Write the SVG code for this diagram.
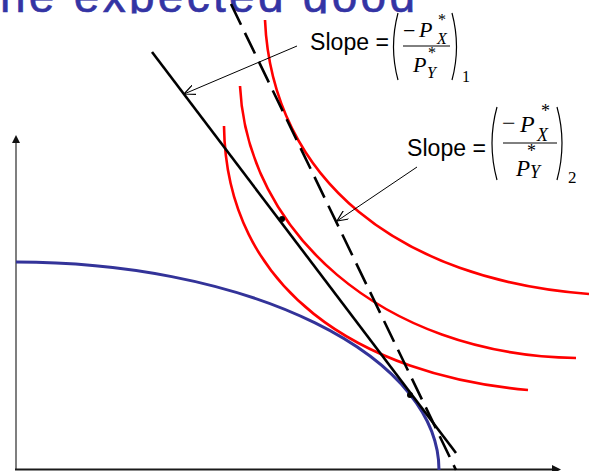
<svg xmlns="http://www.w3.org/2000/svg" width="589" height="471" viewBox="0 0 589 471">
<style>
.title{font-family:"Liberation Sans",Arial,sans-serif;font-size:46px;fill:#3434a4;stroke:#3434a4;stroke-width:0.6}
.lbl{font-family:"Liberation Sans",Arial,sans-serif;font-size:23px;fill:#000}
.m{font-family:"Liberation Serif","Times New Roman",serif;fill:#000}
.mi{font-family:"Liberation Serif","Times New Roman",serif;font-style:italic;fill:#000}
.paren{fill:none;stroke:#000;stroke-width:1.2}
.bar{stroke:#000;stroke-width:1}
.ic{fill:none;stroke:#ff0000;stroke-width:2.6}
.ppf{fill:none;stroke:#333399;stroke-width:3}
.bl{fill:none;stroke:#000;stroke-width:2.6}
.ptr{fill:none;stroke:#000;stroke-width:1;marker-end:url(#openArrow)}
</style>
<defs>
<clipPath id="titleClip"><rect x="0" y="0" width="589" height="13.5"/></clipPath>
<marker id="openArrow" viewBox="0 0 12 10" refX="11" refY="5" markerWidth="12" markerHeight="10" markerUnits="userSpaceOnUse" orient="auto">
<path d="M0,0 L11,5 L0,10" fill="none" stroke="#000" stroke-width="1.2"/>
</marker>
</defs>
<rect width="589" height="471" fill="#fff"/>
<g id="title" clip-path="url(#titleClip)">
<text class="title" x="0" y="12" textLength="415" lengthAdjust="spacing">he expected good</text>
</g>
<g id="axes">
<line x1="16" y1="470" x2="16" y2="142" stroke="#7f7f7f" stroke-width="2"/>
<polygon points="16,135 12,143 20,143" fill="#111"/>
<line x1="15" y1="469.5" x2="553" y2="469.5" stroke="#1a1a1a" stroke-width="2"/>
<polygon points="561,469.5 552,465 552,474" fill="#111"/>
</g>
<g id="ppf">
<path class="ppf" d="M16,262 A423,208 0 0 1 439,470"/>
</g>
<g id="indifference-curves">
<path id="ic1" class="ic" d="M224,126 C226,290 360,375 528,390"/>
<path id="ic2" class="ic" d="M240,86 C247,230 380,355 576,358"/>
<path id="ic3" class="ic" d="M265,20 C272,180 400,280 589,294"/>
</g>
<g id="price-lines">
<line id="price-line-1" class="bl" x1="152" y1="52" x2="456" y2="453"/>
<line id="price-line-2" class="bl" x1="231" y1="4" x2="456" y2="470" stroke-dasharray="23 9"/>
</g>
<g id="points">
<circle cx="282" cy="219" r="3" fill="#000"/>
<circle cx="410" cy="395" r="3" fill="#000"/>
</g>
<g id="slope-label-1">
<text class="lbl" x="310" y="50" textLength="79" lengthAdjust="spacingAndGlyphs">Slope =</text>
<path class="paren" d="M398,13 Q389,47 398,80"/>
<path class="paren" d="M452,13 Q461,47 452,80"/>
<text class="m" x="403" y="38" font-size="22">−</text>
<text class="mi" x="419" y="37" font-size="22">P</text>
<text class="m" x="438" y="25" font-size="16">*</text>
<text class="mi" x="437" y="44" font-size="16">X</text>
<line class="bar" x1="403" y1="46" x2="450" y2="46"/>
<text class="mi" x="413" y="72" font-size="22">P</text>
<text class="m" x="428" y="58" font-size="16">*</text>
<text class="mi" x="427" y="78" font-size="16">Y</text>
<text class="m" x="462" y="82" font-size="16">1</text>
</g>
<g id="slope-label-2">
<text class="lbl" x="407" y="156" textLength="79" lengthAdjust="spacingAndGlyphs">Slope =</text>
<path class="paren" d="M497,107 Q487,143 497,180"/>
<path class="paren" d="M557,107 Q567,143 557,180"/>
<text class="m" x="502" y="131" font-size="24">−</text>
<text class="mi" x="520" y="132" font-size="24">P</text>
<text class="m" x="541" y="117" font-size="18">*</text>
<text class="mi" x="537" y="141" font-size="18">X</text>
<line class="bar" x1="503" y1="143" x2="557" y2="143"/>
<text class="mi" x="516" y="176" font-size="23">P</text>
<text class="m" x="527" y="157" font-size="18">*</text>
<text class="mi" x="530" y="178" font-size="18">Y</text>
<text class="m" x="568" y="183" font-size="17">2</text>
</g>
<g id="connectors">
<path id="ptr1" class="ptr" d="M297,46 L184,94"/>
<path id="ptr2" class="ptr" d="M417,167 L337,221"/>
</g>
</svg>
